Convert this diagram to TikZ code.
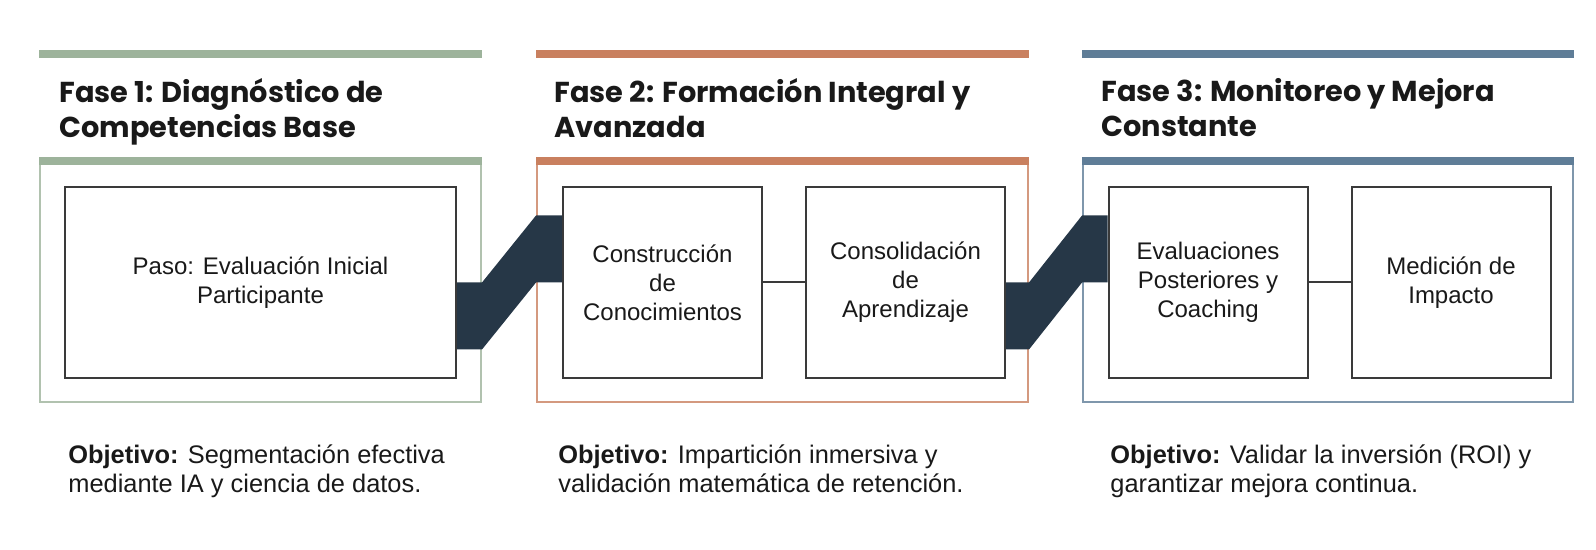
\documentclass[tikz,border=0pt]{standalone}
\usepackage{fontspec}
\setmainfont{Liberation Sans}
\newfontfamily\titulo{Poppins}
\usetikzlibrary{positioning,calc}
\definecolor{verde}{RGB}{157,179,155}
\definecolor{naranja}{RGB}{201,128,95}
\definecolor{azul}{RGB}{95,125,151}
\definecolor{marino}{RGB}{38,55,71}
\definecolor{gris}{RGB}{58,58,58}
\definecolor{tinta}{RGB}{25,25,25}

\begin{document}
\begin{tikzpicture}[x=0.5pt,y=-0.5pt,node distance=21pt,text=tinta,
   paso/.style={draw=gris,line width=1pt,fill=white,minimum width=99.5pt,minimum height=95.5pt,
                align=center,inner sep=0pt,font=\fontsize{12}{14.5}\selectfont},
   marco/.style={draw=#1!80,line width=1pt,minimum height=120pt,inner sep=0pt},
   cabecera/.style={anchor=north west,align=left,inner sep=0pt,font=\titulo\bfseries\fontsize{14.4}{17.4}\selectfont},
   objetivo/.style={anchor=north west,align=left,inner sep=0pt,font=\fontsize{12.7}{14.5}\selectfont},
   banda/.style={fill=marino}]
   \useasboundingbox (0,0) rectangle (1596,550);
   \node[marco=verde,minimum width=220.5pt]   (f1) at (260.5,282) {};
   \node[marco=naranja,minimum width=245.5pt] (f2) at (782.5,282) {};
   \node[marco=azul,minimum width=245pt]      (f3) at (1328,282)  {};
   \foreach \f/\c in {f1/verde,f2/naranja,f3/azul}
     \draw[\c,line width=4pt] (\f.north west) -- (\f.north east)
       ($(\f.north west)+(0,-107)$) -- ($(\f.north east)+(0,-107)$);
   \node[cabecera] (t1) at (59,78)   {Fase 1: Diagnóstico de\\Competencias Base};
   \node[cabecera] (t2) at (554,78)  {Fase 2: Formación Integral y\\Avanzada};
   \node[cabecera] (t3) at (1101,78) {Fase 3: Monitoreo y Mejora\\Constante};
   \node[paso,minimum width=195.5pt] (b1) at (260.5,282.5) {Paso: Evaluación Inicial\\Participante};
   \node[paso] (b21) at (662.5,282.5) {Construcción\\de\\Conocimientos};
   \node[paso] (b22) [right=of b21]   {Consolidación\\de\\Aprendizaje};
   \node[paso] (b31) at (1208,282.5)  {Evaluaciones\\Posteriores y\\Coaching};
   \node[paso] (b32) [right=of b31]   {Medición de\\Impacto};
   \fill[banda] (b1.east) -- (b1.east -| f1.east) -- ($(b21.west -| f2.west)+(0,-67)$)
     -- ($(b21.west)+(0,-67)$) -- (b21.west) -- (b21.west -| f2.west)
     -- ($(b1.east -| f1.east)+(0,67)$) -- ($(b1.east)+(0,67)$) -- cycle;
   \fill[banda] (b22.east) -- (b22.east -| f2.east) -- ($(b31.west -| f3.west)+(0,-67)$)
     -- ($(b31.west)+(0,-67)$) -- (b31.west) -- (b31.west -| f3.west)
     -- ($(b22.east -| f2.east)+(0,67)$) -- ($(b22.east)+(0,67)$) -- cycle;
   \draw[gris,line width=1pt] (b21) -- (b22) (b31) -- (b32);
   \node[objetivo] (o1) at (68,444)   {\textbf{Objetivo:} Segmentación efectiva\\mediante IA y ciencia de datos.};
   \node[objetivo] (o2) at (558,444)  {\textbf{Objetivo:} Impartición inmersiva y\\validación matemática de retención.};
   \node[objetivo] (o3) at (1110,444) {\textbf{Objetivo:} Validar la inversión (ROI) y\\garantizar mejora continua.};
\end{tikzpicture}
\end{document}
